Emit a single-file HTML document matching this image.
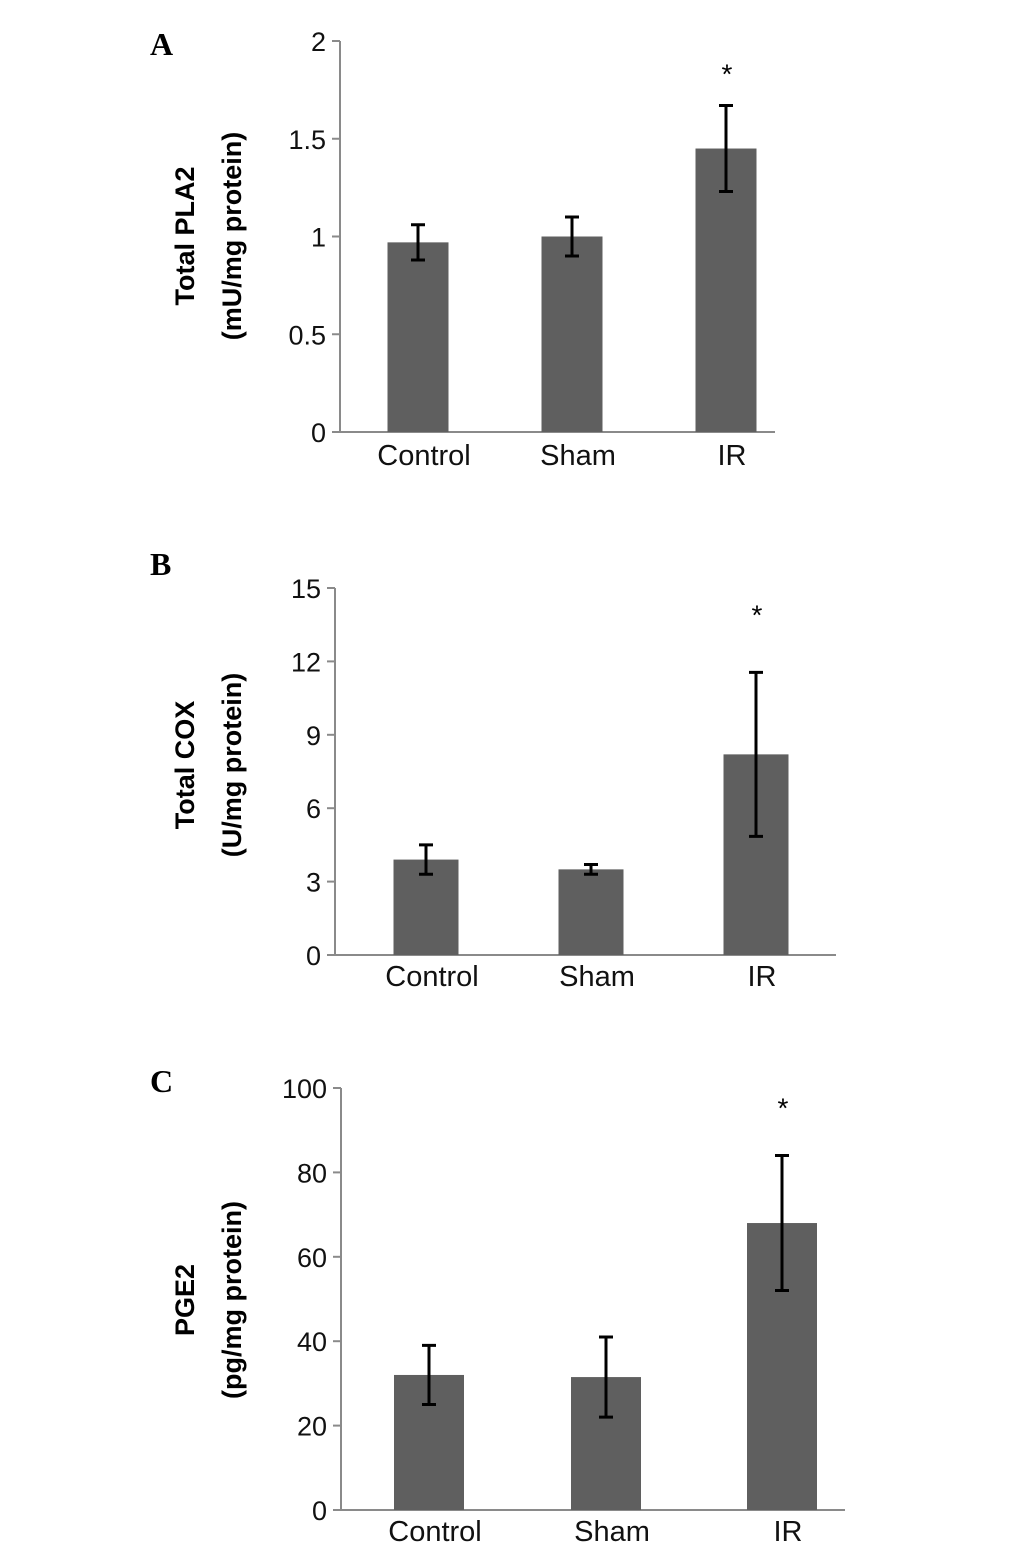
<!DOCTYPE html>
<html><head><meta charset="utf-8"><style>
body{margin:0;background:#fff}
svg text{font-family:"Liberation Sans",sans-serif}
svg text.letter{font-family:"Liberation Serif",serif}
</style></head><body>
<svg id="s" width="1033" height="1548" xmlns="http://www.w3.org/2000/svg"></svg>
<script>
const categories=["Control","Sham","IR"];
const pla2Values=[0.97,1.0,1.45];
const pla2Err=[0.09,0.10,0.22];
const pla2Ticks=[0,0.5,1,1.5,2];
const coxValues=[3.9,3.5,8.2];
const coxErr=[0.6,0.2,3.35];
const coxTicks=[0,3,6,9,12,15];
const pge2Values=[32,31.5,68];
const pge2Err=[7,9.5,16];
const pge2Ticks=[0,20,40,60,80,100];
const sig=[false,false,true];

const NS="http://www.w3.org/2000/svg";
const svg=document.getElementById('s');
function mk(t,a,p){const e=document.createElementNS(NS,t);for(const k in a)e.setAttribute(k,a[k]);(p||svg).appendChild(e);return e;}

const panels=[
 {id:"a",letter:"A",ly:55,vals:pla2Values,err:pla2Err,ticks:pla2Ticks,max:2,ax:340,y0:432,y1:41,xEnd:775,cx:[418,572,726],bw:61,t1:"Total PLA2",t2:"(mU/mg protein)",tx:[185,232],ty:236,cy:465,starOff:44},
 {id:"b",letter:"B",ly:575,vals:coxValues,err:coxErr,ticks:coxTicks,max:15,ax:335,y0:955,y1:588,xEnd:836,cx:[426,591,756],bw:65,t1:"Total COX",t2:"(U/mg protein)",tx:[185,232],ty:765,cy:986,starOff:70},
 {id:"c",letter:"C",ly:1092,vals:pge2Values,err:pge2Err,ticks:pge2Ticks,max:100,ax:341,y0:1510,y1:1088,xEnd:845,cx:[429,606,782],bw:70,t1:"PGE2",t2:"(pg/mg protein)",tx:[185,232],ty:1300,cy:1541,starOff:60}
];
panels.forEach(P=>{
 const g=mk('g',{});
 
 
 const y=v=>P.y0-(v/P.max)*(P.y0-P.y1);
 const L=mk('text',{x:150,y:P.ly,'font-size':32,'font-weight':'bold','class':'letter'},g);L.textContent=P.letter;
 
 const ya=mk('line',{x1:P.ax,y1:P.y1,x2:P.ax,y2:P.y0,stroke:'#8a8a8a','stroke-width':2},g);
 
 const xa=mk('line',{x1:P.ax-8,y1:P.y0,x2:P.xEnd,y2:P.y0,stroke:'#8a8a8a','stroke-width':2},g);
 
 P.ticks.forEach(t=>{
  mk('line',{x1:P.ax-8,y1:y(t),x2:P.ax,y2:y(t),stroke:'#8a8a8a','stroke-width':2},g);
  const tl=mk('text',{x:P.ax-14,y:y(t)+10,'font-size':27,'text-anchor':'end',fill:'#111'},g);tl.textContent=t;
  
 });
 P.vals.forEach((v,i)=>{
  const b=mk('rect',{x:P.cx[i]-P.bw/2,y:y(v),width:P.bw,height:P.y0-y(v),fill:'#5f5f5f'},g);
  
  const hi=y(v+P.err[i]),lo=y(v-P.err[i]);
  const eb=mk('path',{d:`M${P.cx[i]} ${hi}V${lo}M${P.cx[i]-7} ${hi}H${P.cx[i]+7}M${P.cx[i]-7} ${lo}H${P.cx[i]+7}`,stroke:'#000','stroke-width':3,fill:'none'},g);
  
  const cl=mk('text',{x:P.cx[i]+6,y:P.cy,'font-size':29,'text-anchor':'middle',fill:'#111'},g);cl.textContent=categories[i];
  
  if(sig[i]){const s=mk('text',{x:P.cx[i]+1,y:hi-P.starOff+22,'font-size':28,'text-anchor':'middle',fill:'#000'},g);s.textContent='*';
   }
 });
 const t1=mk('text',{x:P.tx[0],y:P.ty,'font-size':27,'font-weight':'bold','text-anchor':'middle',transform:`rotate(-90 ${P.tx[0]} ${P.ty})`,dy:9},g);t1.textContent=P.t1;
 
 const t2=mk('text',{x:P.tx[1],y:P.ty,'font-size':27,'font-weight':'bold','text-anchor':'middle',transform:`rotate(-90 ${P.tx[1]} ${P.ty})`,dy:9},g);t2.textContent=P.t2;
 
});
</script>
</body></html>
